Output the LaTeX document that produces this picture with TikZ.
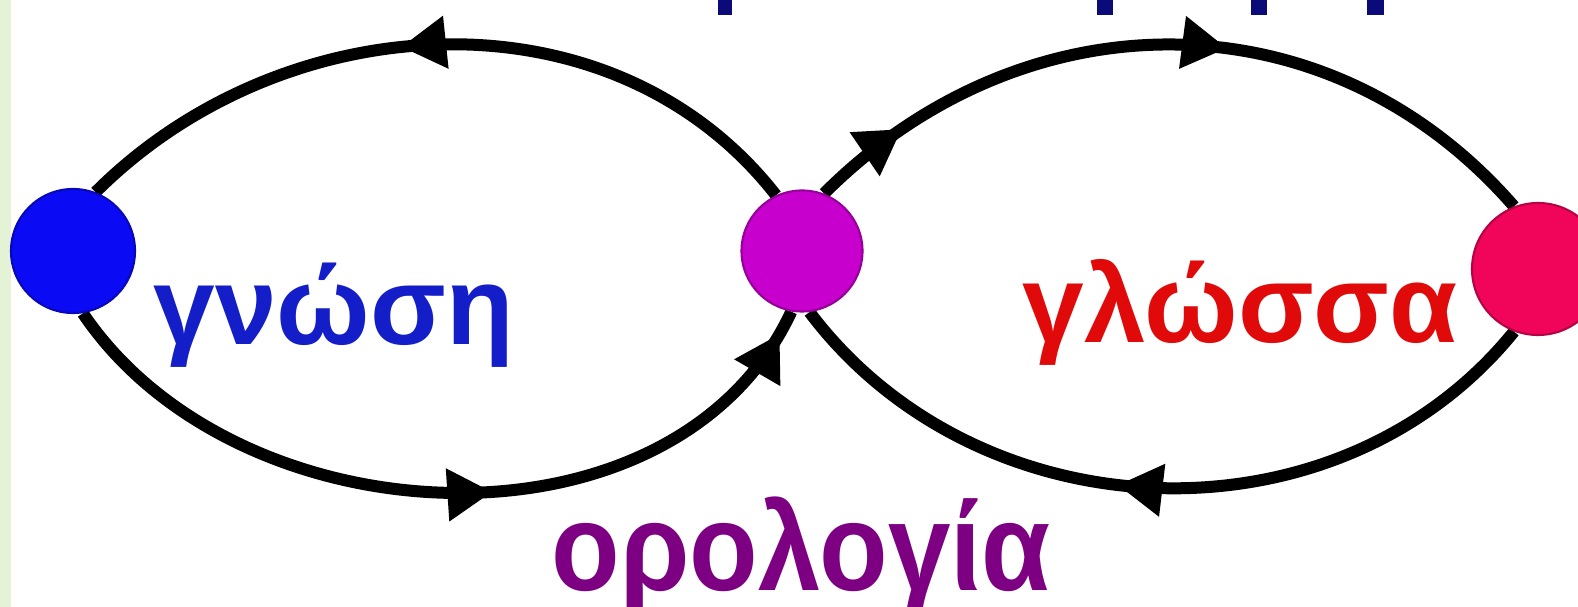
\documentclass[tikz,border=0pt]{standalone}
\usepackage{fontspec}
\usepackage{xcolor}
\usepackage{graphicx}
\usepackage{tikz}
\usetikzlibrary{positioning,arrows.meta,decorations.markings,backgrounds}
\newfontfamily\griega{Liberation Sans}
\definecolor{azulpunto}{RGB}{10,10,245}
\definecolor{magentapunto}{RGB}{200,0,205}
\definecolor{rojopunto}{RGB}{240,5,90}
\definecolor{azultexto}{RGB}{20,30,200}
\definecolor{rojotexto}{RGB}{225,10,10}
\definecolor{moradotexto}{RGB}{125,0,130}
\definecolor{marino}{RGB}{10,10,120}
\definecolor{verdeborde}{RGB}{228,242,214}

\begin{document}
\begin{tikzpicture}[
  >={Triangle[length=0.45cm, width=0.5cm]},
  punto/.style={circle, inner sep=0pt, draw=#1!75!black, fill=#1,
                line width=0.6pt},
  lazo/.style={line width=0.12cm, black},
  marca/.style={postaction={decorate, decoration={markings,
                mark=at position #1 with {\arrow{>}}}}},
  palabra/.style={font=\griega\bfseries\fontsize{31.5}{36}\selectfont,
                  inner sep=0pt, anchor=base west},
]
\useasboundingbox (0,0) rectangle (15.78,-6.07);
% ---- restos del titulo -----------------------------------------------------
\foreach \xa/\xb in {7.18/7.32, 10.97/11.13, 12.51/12.67, 13.67/13.84} {
  \fill[marino] (\xa,0) rectangle (\xb,-0.15);
}
% ---- puntos ---------------------------------------------------------------
\node[punto=azulpunto, minimum size=1.24cm] (gnosi) at (0.73,-2.51) {};
\node[punto=magentapunto, minimum size=1.21cm] (oro) at (8.02,-2.51) {};
\node[punto=rojopunto, minimum size=1.32cm] (glossa) at (15.38,-2.69) {};
% ---- lazos ----------------------------------------------------------------
\begin{scope}[on background layer]
\fill[white] (0,0) rectangle (15.78,-6.07);
\fill[verdeborde] (0,0) rectangle (0.11,-6.07);
\draw[lazo, marca=0.55] (oro.115) to[out=128, in=45, looseness=1.0]
  (gnosi.69);
\draw[lazo, marca=0.56, marca=0.97] (gnosi.-81) to[out=-56, in=245,
  looseness=1.0] (oro.260);
\draw[lazo, marca=0.13, marca=0.57] (oro.69) to[out=45, in=131,
  looseness=1.05] (glossa.111);
\draw[lazo, marca=0.55] (glossa.249) to[out=231, in=307, looseness=1.02]
  (oro.277);
\end{scope}
% ---- palabras -------------------------------------------------------------
\node[palabra, text=azultexto] (tgnosi) at (1.53,-3.45) {γνώση};
\node[palabra, text=rojotexto] (tglossa) at (10.22,-3.43) {γλώσσα};
\node[palabra, text=moradotexto, font=\griega\bfseries\fontsize{35.5}{40}\selectfont]
  (toro) at (5.51,-5.91) {\scalebox{0.9}[1]{ορολογία}};
\end{tikzpicture}
\end{document}
